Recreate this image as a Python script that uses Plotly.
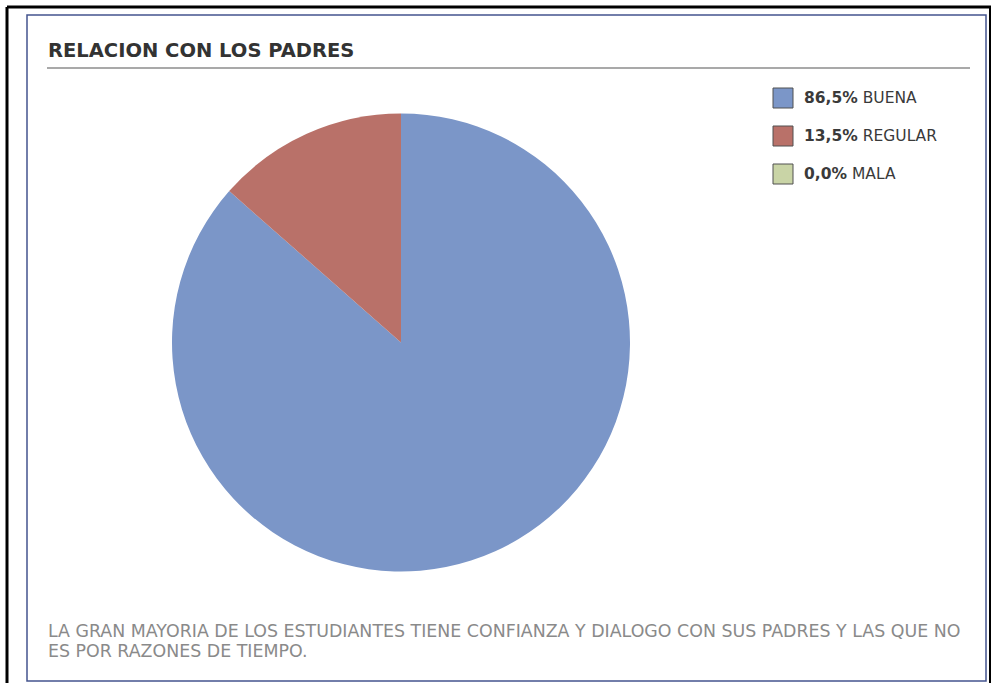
import plotly.graph_objects as go

# ---- data ----
labels = ["BUENA", "REGULAR", "MALA"]
values = [86.5, 13.5, 0.0]
colors = ["#7b96c8", "#b97169", "#c9d4a6"]
title_text = "RELACION CON LOS PADRES"
footer_lines = [
    "LA GRAN MAYORIA DE LOS ESTUDIANTES TIENE CONFIANZA Y DIALOGO CON SUS PADRES Y LAS QUE NO",
    "ES POR RAZONES DE TIEMPO.",
]

W, H = 993, 683


def px(x):
    return x / W


def py(y):
    return 1 - y / H


# pie geometry (pixels)
cx, cy, r = 401, 342.5, 229

fig = go.Figure()
fig.add_trace(go.Pie(
    labels=labels,
    values=values,
    marker=dict(colors=colors, line=dict(width=0)),
    sort=False,
    direction="clockwise",
    rotation=0,
    textinfo="none",
    hoverinfo="label+percent",
    showlegend=False,
    domain=dict(x=[px(cx - r), px(cx + r)], y=[py(cy + r), py(cy - r)]),
))

shapes = []
annotations = []

# outer black frame
shapes.append(dict(type="line", xref="paper", yref="paper",
                   x0=px(7), x1=px(991), y0=py(7), y1=py(7),
                   line=dict(color="black", width=3)))
shapes.append(dict(type="line", xref="paper", yref="paper",
                   x0=px(7), x1=px(7), y0=py(7), y1=py(683),
                   line=dict(color="black", width=3)))
shapes.append(dict(type="line", xref="paper", yref="paper",
                   x0=px(990), x1=px(990), y0=py(7), y1=py(683),
                   line=dict(color="black", width=2)))
# inner panel
shapes.append(dict(type="rect", xref="paper", yref="paper",
                   x0=px(27), x1=px(986), y0=py(681), y1=py(15),
                   line=dict(color="#44548e", width=1.5), fillcolor="rgba(0,0,0,0)"))
# title underline
shapes.append(dict(type="line", xref="paper", yref="paper",
                   x0=px(47), x1=px(970), y0=py(68), y1=py(68),
                   line=dict(color="#8c8c8c", width=1.5)))

# title
annotations.append(dict(xref="paper", yref="paper", x=px(46), y=py(50),
                        xanchor="left", yanchor="middle", showarrow=False,
                        text=f"<b>{title_text}</b>",
                        font=dict(family="DejaVu Sans", size=19.5, color="#333333")))

# legend (built from data)
total = sum(values)
row_y = [98, 136, 174]
for lab, val, col, yy in zip(labels, values, colors, row_y):
    shapes.append(dict(type="rect", xref="paper", yref="paper",
                       x0=px(773), x1=px(793), y0=py(yy + 10), y1=py(yy - 10),
                       line=dict(color="#505050", width=1), fillcolor=col))
    pct = f"{val / total * 100:.1f}%".replace(".", ",")
    annotations.append(dict(xref="paper", yref="paper", x=px(802), y=py(yy),
                            xanchor="left", yanchor="middle", showarrow=False,
                            text=f"<b>{pct}</b> {lab}",
                            font=dict(family="DejaVu Sans", size=15.5, color="#3a3a3a")))

# footer
for i, line in enumerate(footer_lines):
    annotations.append(dict(xref="paper", yref="paper", x=px(46), y=py(631 + 20 * i),
                            xanchor="left", yanchor="middle", showarrow=False,
                            text=line,
                            font=dict(family="DejaVu Sans", size=17.4, color="#8a8a8a")))

fig.update_layout(
    width=W, height=H,
    margin=dict(l=0, r=0, t=0, b=0),
    paper_bgcolor="white",
    plot_bgcolor="white",
    shapes=shapes,
    annotations=annotations,
    showlegend=False,
)

fig.write_html("out.html", config={"displayModeBar": False},
               post_script="document.body.style.margin='0';document.body.style.overflow='hidden';")
